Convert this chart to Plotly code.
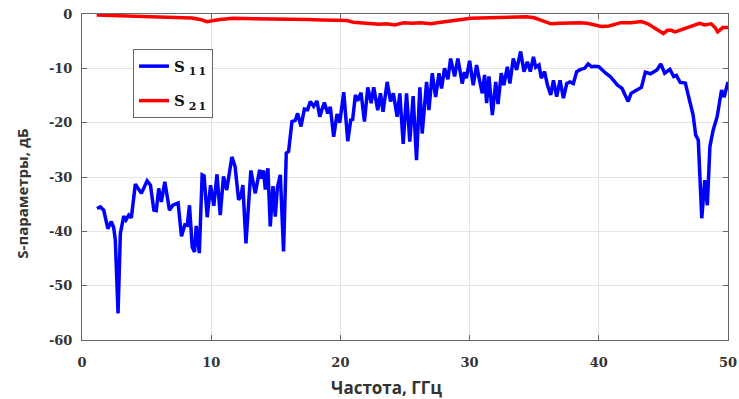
import plotly.graph_objects as go

# S11 (blue)
s11_freq = [1.16, 1.42, 1.68, 2.0, 2.27, 2.45, 2.58, 2.79, 2.97, 3.23, 3.4, 3.62, 3.82, 4.13, 4.34, 4.6,
            5.04, 5.3, 5.56, 5.75, 5.94, 6.14, 6.41, 6.77, 7.03, 7.44, 7.7, 7.96, 8.15, 8.32, 8.53, 8.71,
            8.84, 9.08, 9.3, 9.45, 9.69, 9.95, 10.2, 10.45, 10.7, 10.95, 11.2, 11.6, 11.85, 12.12, 12.3,
            12.45, 12.69, 13.07, 13.41, 13.75, 13.9, 14.05, 14.19, 14.39, 14.57, 14.78, 14.96, 15.12,
            15.35, 15.6, 15.81, 15.99, 16.25, 16.5, 16.69, 16.95, 17.21, 17.47, 17.67, 17.93, 18.19,
            18.4, 18.57, 18.76, 19.02, 19.22, 19.48, 19.74, 19.95, 20.26, 20.57, 20.8, 20.95, 21.16,
            21.33, 21.6, 21.86, 22.12, 22.38, 22.58, 22.89, 23.1, 23.3, 23.62, 23.88, 24.1, 24.39, 24.6,
            24.86, 25.12, 25.37, 25.63, 25.89, 26.15, 26.33, 26.67, 26.85, 27.11, 27.37, 27.63, 27.83,
            28.06, 28.32, 28.53, 28.84, 29.09, 29.43, 29.6, 29.75, 30.0, 30.28, 30.54, 30.75, 30.98,
            31.16, 31.32, 31.5, 31.76, 32.02, 32.2, 32.45, 32.65, 32.92, 33.12, 33.38, 33.64, 33.95,
            34.21, 34.47, 34.7, 34.94, 35.12, 35.37, 35.55, 35.8, 36.03, 36.28, 36.49, 36.74, 37.0,
            37.26, 37.52, 37.77, 38.03, 38.29, 38.6, 38.9, 39.17, 39.43, 39.7, 40.0, 40.26, 40.54,
            40.88, 41.45, 41.8, 42.09, 42.27, 42.5, 43.0, 43.3, 43.6, 44.0, 44.5, 44.8, 45.1, 45.5,
            45.8, 46.0, 46.3, 46.7, 46.95, 47.3, 47.5, 47.7, 47.97, 48.2, 48.4, 48.6, 48.85, 49.16,
            49.5, 49.7, 50.0]
s11_db = [-35.8, -35.5, -36.1, -39.5, -38.2, -39.3, -41.6, -55.1, -40.4, -37.2, -37.9, -37.0, -37.5,
          -31.3, -32.1, -33.0, -30.7, -31.5, -36.1, -36.2, -32.1, -34.6, -30.9, -36.1, -35.2, -34.8,
          -40.9, -38.8, -38.9, -35.2, -42.9, -43.8, -39.0, -44.0, -29.6, -29.8, -37.4, -31.5, -35.3,
          -29.5, -37.0, -29.9, -32.4, -26.3, -28.1, -34.2, -33.5, -31.5, -42.2, -28.8, -33.0, -28.7,
          -30.3, -28.8, -32.3, -28.4, -39.1, -31.7, -37.3, -32.0, -29.6, -43.7, -25.6, -25.3, -19.8,
          -19.6, -18.3, -20.7, -17.5, -17.6, -16.1, -17.0, -16.0, -18.9, -17.6, -16.3, -18.3, -17.1,
          -22.6, -18.4, -20.0, -14.4, -23.4, -19.5, -19.4, -14.9, -16.0, -14.5, -19.8, -13.5, -16.4,
          -13.5, -17.7, -14.6, -18.0, -12.5, -16.1, -14.6, -18.9, -14.6, -23.9, -14.6, -23.5, -15.1,
          -26.9, -13.5, -22.0, -12.5, -17.7, -10.9, -15.3, -10.9, -13.7, -10.0, -12.0, -8.2, -11.5,
          -8.2, -12.8, -10.7, -11.8, -8.6, -13.1, -9.4, -12.0, -14.6, -11.2, -16.4, -11.5, -18.6,
          -12.5, -16.6, -10.9, -13.1, -9.7, -12.8, -8.2, -10.3, -6.9, -10.6, -8.8, -10.6, -7.9, -9.8,
          -9.4, -11.8, -10.6, -13.1, -14.9, -12.2, -15.2, -12.2, -15.5, -12.8, -12.5, -12.8, -10.6,
          -10.2, -10.0, -9.2, -9.7, -9.6, -9.7, -10.3, -10.9, -11.5, -13.1, -13.7, -15.2, -16.1, -14.6,
          -13.9, -13.5, -10.7, -11.0, -10.3, -9.2, -10.9, -10.2, -11.5, -11.3, -12.6, -12.7, -15.2,
          -18.6, -22.3, -23.2, -37.6, -30.6, -35.2, -24.4, -21.4, -18.9, -14.0, -15.3, -12.5]

# S21 (red)
s21_freq = [1.14, 3.0, 5.0, 7.0, 8.5, 9.15, 9.67, 10.2, 10.7, 11.7, 13.0, 14.5, 15.6, 16.5, 17.5, 18.5,
            19.5, 20.5, 21.0, 21.8, 22.3, 23.0, 23.6, 24.2, 24.9, 25.5, 26.2, 27.0, 27.5, 28.8, 30.1,
            31.5, 32.6, 33.5, 34.4, 35.0, 35.5, 36.3, 37.0, 37.8, 38.5, 39.1, 39.6, 40.2, 40.8, 41.7,
            42.5, 43.3, 43.8, 44.3, 44.7, 45.0, 45.3, 45.6, 45.9, 46.4, 47.3, 47.8, 48.2, 48.7, 49.0,
            49.2, 49.6, 50.0]
s21_db = [-0.2, -0.35, -0.55, -0.6, -0.75, -1.0, -1.4, -1.2, -1.0, -0.8, -0.85, -0.8, -0.8, -0.95,
          -1.0, -1.1, -1.2, -1.2, -1.5, -1.7, -1.7, -1.9, -1.8, -2.0, -1.6, -1.7, -1.6, -1.8, -1.6,
          -1.2, -0.8, -0.7, -0.6, -0.5, -0.5, -0.7, -1.1, -1.8, -1.7, -1.6, -1.6, -1.7, -2.0, -2.3,
          -2.2, -1.6, -1.6, -1.4, -1.8, -2.6, -3.2, -3.6, -3.0, -3.0, -3.3, -2.9, -2.2, -1.7, -2.0,
          -1.8, -2.5, -3.3, -2.5, -2.5]

x_ticks = [0, 10, 20, 30, 40, 50]
y_ticks = [0, -10, -20, -30, -40, -50, -60]
y_tick_text = ["0", "-10", "-20", "-30", "-40", "-50", "-60"]
x_title = "Частота, ГГц"
y_title = "S-параметры, дБ"

tick_font = dict(family="DejaVu Serif", size=13, color="#333333", weight="bold")

fig = go.Figure()
fig.add_trace(go.Scatter(x=s11_freq, y=s11_db, mode="lines", legendgroup="s11",
                         name="S<sub><span style='font-size:11px'>\u00a01\u20091</span></sub>",
                         line=dict(color="#0000ff", width=3.5)))
fig.add_trace(go.Scatter(x=s21_freq, y=s21_db, mode="lines", legendgroup="s21",
                         name="S<sub><span style='font-size:11px'>\u00a02\u20091</span></sub>",
                         line=dict(color="#ff0000", width=3.5)))

axis_common = dict(showgrid=True, gridcolor="#e3e3e3", gridwidth=1, showline=True,
                   linecolor="#666666", linewidth=1, mirror="ticks", ticks="inside",
                   ticklen=5, tickcolor="#666666", zeroline=False, tickfont=tick_font,
                   automargin=False)

fig.update_xaxes(range=[0, 50], tickvals=x_ticks, ticklabelstandoff=10, **axis_common)
fig.update_yaxes(range=[-60, 0], tickvals=y_ticks, ticktext=y_tick_text,
                 ticklabelstandoff=6, **axis_common)

fig.add_annotation(text=x_title, xref="paper", yref="paper", x=0.472, y=-0.147,
                   xanchor="center", yanchor="middle", showarrow=False,
                   font=dict(family="Open Sans", size=17, color="#333333", weight="bold"))
fig.add_annotation(text=y_title, xref="paper", yref="paper", x=-0.0933, y=0.448,
                   xanchor="center", yanchor="middle", showarrow=False, textangle=-90,
                   font=dict(family="Open Sans", size=15, color="#333333", weight="bold"))

fig.update_layout(
    width=739, height=399,
    margin=dict(l=82, r=11, t=14, b=59),
    plot_bgcolor="white", paper_bgcolor="white",
    showlegend=True,
    legend=dict(x=0.079, y=0.893, xanchor="left", yanchor="top",
                bgcolor="white", bordercolor="#666666", borderwidth=1,
                font=dict(family="DejaVu Serif", size=15, color="#111111", weight="bold"),
                tracegroupgap=12, itemwidth=30),
)

fig.write_html("out.html")
